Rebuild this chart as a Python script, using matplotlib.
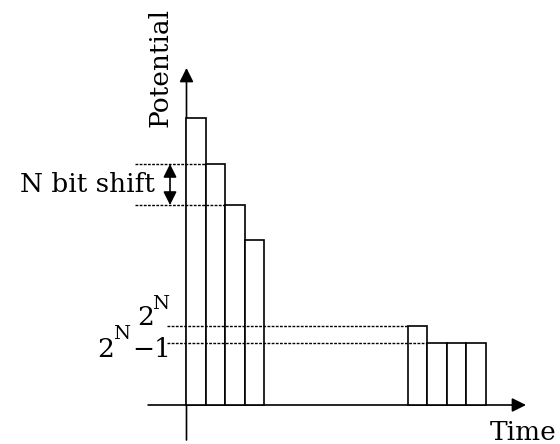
import matplotlib
matplotlib.use("Agg")
import matplotlib.pyplot as plt

# bar heights (potential) and start times, in arbitrary units
first_start = [0, 1, 2, 3]
first_height = [28.7, 24.1, 20.0, 16.5]
second_start = [11.35, 12.35, 13.35, 14.35]
second_height = [7.9, 6.2, 6.2, 6.2]
bar_width = 1.0

plt.rcParams['font.family'] = ['DejaVu Serif']
fs = 19

fig = plt.figure(figsize=(5.6, 4.44), dpi=100)
ax = fig.add_axes([0, 0, 1, 1])
ax.set_xlim(-9.564, 19.154)
ax.set_ylim(-3.9, 40.5)
ax.axis('off')

# axes with arrow heads
arrow = dict(arrowstyle='-|>', color='black', lw=1.2, mutation_scale=21,
             shrinkA=0, shrinkB=0)
ax.annotate('', xy=(17.41, 0), xytext=(-1.97, 0), arrowprops=arrow)
ax.annotate('', xy=(0, 33.7), xytext=(0, -3.5), arrowprops=arrow)

# bars
ax.bar(first_start, first_height, width=bar_width, align='edge',
       facecolor='white', edgecolor='black', linewidth=1.2, zorder=3)
ax.bar(second_start, second_height, width=bar_width, align='edge',
       facecolor='white', edgecolor='black', linewidth=1.2, zorder=3)

# dotted guide lines (drawn over the bars)
dots = dict(color='black', lw=1.0, linestyle=(0, (2, 1)), zorder=4)
ax.plot([-2.64, first_start[1]], [first_height[1]] * 2, **dots)
ax.plot([-2.64, first_start[2]], [first_height[2]] * 2, **dots)
ax.plot([-1.0, second_start[0]], [second_height[0]] * 2, **dots)
ax.plot([-1.0, second_start[1]], [second_height[1]] * 2, **dots)

# N bit shift double arrow
ax.annotate('', xy=(-0.846, first_height[2]), xytext=(-0.846, first_height[1]),
            arrowprops=dict(arrowstyle='<|-|>', color='black', lw=1.2,
                            mutation_scale=20, shrinkA=0, shrinkB=0))

ax.text(-1.62, 21.3, 'N bit shift', fontsize=fs, ha='right', va='baseline')
ax.text(-1.36, 33.7, 'Potential', fontsize=fs, rotation=90,
        ha='center', va='center')
ax.text(19.0, -3.5, 'Time', fontsize=fs, ha='right', va='baseline')

# 2^N label
ax.text(-2.54, 8.0, '2', fontsize=fs, ha='left', va='baseline')
ax.text(-1.77, 9.6, 'N', fontsize=14, ha='left', va='baseline')
# 2^N - 1 label
ax.text(-4.59, 4.8, '2', fontsize=fs, ha='left', va='baseline')
ax.text(-3.77, 6.6, 'N', fontsize=14, ha='left', va='baseline')
ax.text(-2.79, 4.8, '\u22121', fontsize=fs, ha='left', va='baseline')

fig.savefig('out.png', dpi=100)
